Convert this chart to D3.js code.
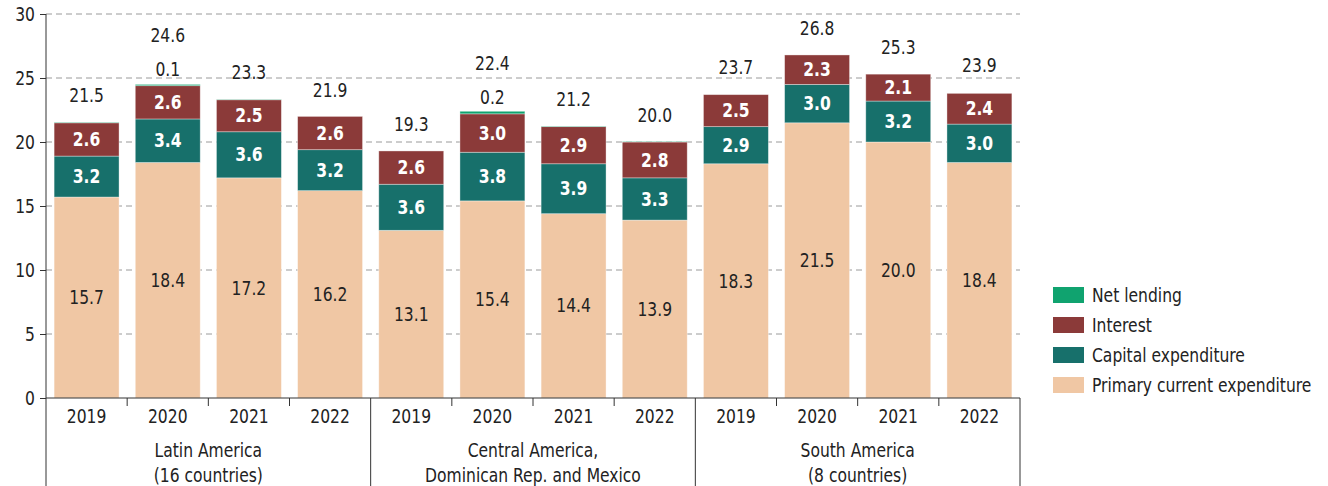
<!DOCTYPE html>
<html>
<head>
<meta charset="utf-8">
<script src="https://cdn.jsdelivr.net/npm/d3@7"></script>
<style>
  body { margin: 0; background: #fff; }
  svg text {
    font-family: "Liberation Sans Narrow", "DejaVu Sans Condensed", sans-serif;
    fill: #222;
    transform: scaleX(0.91);
    transform-box: fill-box;
    transform-origin: center;
  }
  svg .legend-label { transform-origin: left center; }
  svg .y-tick text { transform-origin: right center; }
</style>
</head>
<body>
<div id="chart-area"></div>
<script>
// SVG size
const width = 1328,
	height = 486;

// Data
const groups = ["Latin America\n(16 countries)", "Central America,\nDominican Rep. and Mexico", "South America\n(8 countries)"];
const years = ["2019", "2020", "2021", "2022"];
const primary = [15.7, 18.4, 17.2, 16.2, 13.1, 15.4, 14.4, 13.9, 18.3, 21.5, 20.0, 18.4];
const capital = [3.2, 3.4, 3.6, 3.2, 3.6, 3.8, 3.9, 3.3, 2.9, 3.0, 3.2, 3.0];
const interest = [2.6, 2.6, 2.5, 2.6, 2.6, 3.0, 2.9, 2.8, 2.5, 2.3, 2.1, 2.4];
const netLending = [0.04, 0.1, 0.03, 0.0, 0.0, 0.2, 0.04, 0.03, 0.0, 0.0, 0.0, 0.0];
const totals = [21.5, 24.6, 23.3, 21.9, 19.3, 22.4, 21.2, 20.0, 23.7, 26.8, 25.3, 23.9];
const netLabels = ["", "0.1", "", "", "", "0.2", "", "", "", "", "", ""];
const yTicks = [0, 5, 10, 15, 20, 25, 30];

const seriesKeys = ["primary", "capital", "interest", "net"];
const seriesNames = ["Primary current expenditure", "Capital expenditure", "Interest", "Net lending"];
const colors = ["#f0c7a4", "#17706b", "#8b3a39", "#10a36f"];

// rows for the stack
const rows = primary.map((p, i) => ({
	key: groups[Math.floor(i / 4)] + "|" + years[i % 4],
	year: years[i % 4],
	primary: p,
	capital: capital[i],
	interest: interest[i],
	net: netLending[i],
	total: totals[i],
	netLabel: netLabels[i]
}));

const svg = d3.select("#chart-area")
	.append("svg")
	.attr("width", width)
	.attr("height", height);

const x = d3.scaleBand()
	.domain(rows.map(d => d.key))
	.range([46, 1020])
	.paddingInner(0.2)
	.paddingOuter(0.1);

const y = d3.scaleLinear()
	.domain([0, 30])
	.range([398, 14]);

const color = d3.scaleOrdinal().domain(seriesKeys).range(colors);

// gridlines
svg.append("g")
	.selectAll("line")
	.data(yTicks.filter(d => d > 0))
	.join("line")
	.attr("x1", 46)
	.attr("x2", 1020)
	.attr("y1", d => y(d))
	.attr("y2", d => y(d))
	.attr("stroke", "#9a9a9a")
	.attr("stroke-width", 1)
	.attr("stroke-dasharray", "6,4");

// stacked bars
const stacked = d3.stack().keys(seriesKeys)(rows);

svg.append("g")
	.selectAll("g")
	.data(stacked)
	.join("g")
	.attr("fill", d => color(d.key))
	.selectAll("rect")
	.data(d => d)
	.join("rect")
	.attr("x", d => x(d.data.key))
	.attr("width", x.bandwidth())
	.attr("y", d => y(d[1]))
	.attr("height", d => y(d[0]) - y(d[1]))
	.attr("stroke", "rgba(255,255,255,0.45)")
	.attr("stroke-width", 0.8);

// primary labels (dark)
svg.append("g")
	.selectAll("text")
	.data(stacked[0])
	.join("text")
	.attr("x", d => x(d.data.key) + x.bandwidth() / 2)
	.attr("y", d => y((d[0] + d[1]) / 2))
	.attr("dy", "0.35em")
	.attr("text-anchor", "middle")
	.style("font-size", "19px")
	.text(d => d.data.primary.toFixed(1));

// capital and interest labels (white bold)
svg.append("g")
	.selectAll("g")
	.data(stacked.slice(1, 3))
	.join("g")
	.selectAll("text")
	.data(d => d.map(v => ({ v: v, key: d.key })))
	.join("text")
	.attr("x", d => x(d.v.data.key) + x.bandwidth() / 2)
	.attr("y", d => y((d.v[0] + d.v[1]) / 2))
	.attr("dy", "0.35em")
	.attr("text-anchor", "middle")
	.style("font-size", "19px")
	.style("font-weight", "bold")
	.style("fill", "#fff")
	.text(d => d.v.data[d.key].toFixed(1));

// net lending labels
svg.append("g")
	.selectAll("text")
	.data(rows.filter(d => d.netLabel))
	.join("text")
	.attr("x", d => x(d.key) + x.bandwidth() / 2)
	.attr("y", d => y(d.total) - 14)
	.attr("dy", "0.35em")
	.attr("text-anchor", "middle")
	.style("font-size", "19px")
	.text(d => d.netLabel);

// totals
svg.append("g")
	.selectAll("text")
	.data(rows)
	.join("text")
	.attr("x", d => x(d.key) + x.bandwidth() / 2)
	.attr("y", d => y(d.total) - (d.netLabel ? 48 : 27))
	.attr("dy", "0.35em")
	.attr("text-anchor", "middle")
	.style("font-size", "19px")
	.text(d => d.total.toFixed(1));

// y axis
const yAxis = d3.axisLeft(y).tickValues(yTicks).tickSize(6).tickPadding(5);
const gy = svg.append("g")
	.attr("class", "y-tick")
	.attr("transform", "translate(46,0)")
	.call(yAxis);
gy.select(".domain").remove();
gy.selectAll(".tick line").attr("stroke", "#333");
gy.selectAll(".tick text").style("font-size", "19px").attr("fill", "#222");
svg.append("line")
	.attr("x1", 46).attr("x2", 46)
	.attr("y1", y(30)).attr("y2", height)
	.attr("stroke", "#333");

// x axis baseline
svg.append("line")
	.attr("x1", 46).attr("x2", 1020)
	.attr("y1", y(0)).attr("y2", y(0))
	.attr("stroke", "#333");

// year ticks between bars inside a group
const step = x.step();
svg.append("g")
	.selectAll("line")
	.data(rows.filter((d, i) => i % 4 !== 0))
	.join("line")
	.attr("x1", d => x(d.key) - (step - x.bandwidth()) / 2)
	.attr("x2", d => x(d.key) - (step - x.bandwidth()) / 2)
	.attr("y1", y(0))
	.attr("y2", y(0) + 8)
	.attr("stroke", "#333");

// group separators
svg.append("g")
	.selectAll("line")
	.data(rows.filter((d, i) => i % 4 === 0 && i > 0).concat([null]))
	.join("line")
	.attr("x1", d => d ? x(d.key) - (step - x.bandwidth()) / 2 : 1020)
	.attr("x2", d => d ? x(d.key) - (step - x.bandwidth()) / 2 : 1020)
	.attr("y1", y(0))
	.attr("y2", height)
	.attr("stroke", "#333");

// year labels
svg.append("g")
	.selectAll("text")
	.data(rows)
	.join("text")
	.attr("x", d => x(d.key) + x.bandwidth() / 2)
	.attr("y", 416)
	.attr("dy", "0.35em")
	.attr("text-anchor", "middle")
	.style("font-size", "19px")
	.text(d => d.year);

// group labels
svg.append("g")
	.selectAll("text")
	.data(groups)
	.join("text")
	.attr("x", (d, i) => {
		const first = x(rows[i * 4].key);
		const last = x(rows[i * 4 + 3].key) + x.bandwidth();
		return (first + last) / 2;
	})
	.attr("text-anchor", "middle")
	.style("font-size", "19px")
	.selectAll("tspan")
	.data(d => d.split("\n"))
	.join("tspan")
	.attr("x", function () { return d3.select(this.parentNode).attr("x"); })
	.attr("y", (d, i) => 450 + i * 25)
	.attr("dy", "0.35em")
	.text(d => d);

// legend
const legendOrder = [3, 2, 1, 0];
const legend = svg.append("g")
	.selectAll("g")
	.data(legendOrder)
	.join("g")
	.attr("transform", (d, i) => "translate(1053," + (295 + i * 30) + ")");

legend.append("rect")
	.attr("x", 0)
	.attr("y", -8)
	.attr("width", 31)
	.attr("height", 16)
	.attr("fill", d => colors[d]);

legend.append("text")
	.attr("class", "legend-label")
	.attr("x", 39)
	.attr("y", 0)
	.attr("dy", "0.35em")
	.style("font-size", "19px")
	.text(d => seriesNames[d]);
</script>
</body>
</html>
